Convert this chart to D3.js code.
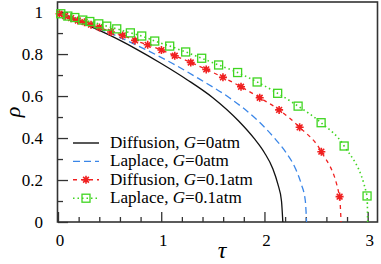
<!DOCTYPE html>
<html>
<head>
<meta charset="utf-8">
<script src="https://cdn.jsdelivr.net/npm/d3@7"></script>
<style>
  body { margin: 0; background: #fff; }
</style>
</head>
<body>
<div id="chart"></div>
<script>
var width = 381, height = 264;
var margin = { top: 2, right: 3, bottom: 42, left: 58 };
var serif = 'serif';

// series: [tau, rho]
var diffusionG0 = [[0, 1], [0.25, 0.945], [0.5, 0.89], [0.75, 0.826], [1.0, 0.755], [1.25, 0.678],
    [1.5, 0.592], [1.75, 0.481], [1.9, 0.398], [2.0, 0.33], [2.08, 0.255], [2.13, 0.18], [2.165, 0.1], [2.178, 0]];
var laplaceG0 = [[0, 1], [0.28, 0.945], [0.55, 0.89], [0.83, 0.826], [1.11, 0.755], [1.38, 0.678],
    [1.66, 0.592], [1.94, 0.481], [2.1, 0.398], [2.21, 0.33], [2.3, 0.255], [2.357, 0.18], [2.396, 0.1], [2.408, 0]];
var diffusionG01 = [[0, 1], [0.015, 0.992], [0.069, 0.981], [0.127, 0.971], [0.192, 0.96], [0.257, 0.952],
    [0.32, 0.94], [0.402, 0.927], [0.514, 0.905], [0.627, 0.889], [0.746, 0.865], [0.869, 0.844],
    [1.002, 0.819], [1.131, 0.792], [1.286, 0.76], [1.436, 0.727], [1.598, 0.689], [1.773, 0.644],
    [1.954, 0.592], [2.142, 0.534], [2.341, 0.451], [2.551, 0.335], [2.728, 0.121], [2.742, 0]];
var laplaceG01 = [[0, 1], [0.027, 0.992], [0.095, 0.981], [0.163, 0.974], [0.24, 0.962], [0.308, 0.955],
    [0.395, 0.944], [0.472, 0.933], [0.569, 0.92], [0.701, 0.901], [0.811, 0.886], [0.937, 0.862],
    [1.082, 0.838], [1.237, 0.81], [1.392, 0.78], [1.556, 0.748], [1.74, 0.712], [1.929, 0.667],
    [2.128, 0.613], [2.326, 0.552], [2.549, 0.473], [2.772, 0.362], [2.994, 0.124], [3.0, 0]];

var xTicks = [0, 1, 2, 3];
var yTicks = [0, 0.2, 0.4, 0.6, 0.8, 1];
var legendLabels = [["Diffusion, ", "G", "=0atm"], ["Laplace, ", "G", "=0atm"],
    ["Diffusion, ", "G", "=0.1atm"], ["Laplace, ", "G", "=0.1atm"]];

var svg = d3.select("#chart").append("svg")
    .attr("width", width)
    .attr("height", height);

let x = d3.scaleLinear().domain([0, 3.1]).range([margin.left, width - margin.right]);
let y = d3.scaleLinear().domain([0, 1.048]).range([height - margin.bottom, margin.top]);

var series = [
    { data: diffusionG0, colour: "#111", dash: null, marker: null },
    { data: laplaceG0, colour: "#3a86e8", dash: "7,4", marker: null },
    { data: diffusionG01, colour: "#f02020", dash: "4,4", marker: "star" },
    { data: laplaceG01, colour: "#3fd520", dash: "1.5,3", marker: "square" }
];

// minor + major ticks, pointing inward
let xAxis = d3.axisBottom(x).tickValues(d3.range(0, 3.01, 0.2)).tickSizeInner(-5).tickSizeOuter(0).tickFormat('');
let yAxis = d3.axisLeft(y).tickValues(d3.range(0, 1.01, 0.1)).tickSizeInner(-5).tickSizeOuter(0).tickFormat('');

svg.append('g').attr('transform', `translate(0, ${y(0)})`).call(xAxis)
    .call(g => g.selectAll('.tick line').filter(d => Math.abs(d - Math.round(d)) < 1e-6).attr('y2', -10));
svg.append('g').attr('transform', `translate(${margin.left}, 0)`).call(yAxis)
    .call(g => g.selectAll('.tick line').filter(d => Math.abs(d * 5 - Math.round(d * 5)) < 1e-6).attr('x2', 10));
svg.selectAll('.domain').remove();
svg.selectAll('.tick line').attr('stroke', '#333').attr('stroke-width', 1.3);

// frame
svg.append('rect')
    .attr('x', x.range()[0] - 0.5).attr('y', y.range()[1])
    .attr('width', x.range()[1] - x.range()[0]).attr('height', y.range()[0] - y.range()[1])
    .attr('fill', 'none').attr('stroke', '#333').attr('stroke-width', 1.6);

svg.selectAll('text.xLabel').data(xTicks).enter().append('text')
    .attr('class', 'xLabel')
    .attr('x', d => x(d) + 2).attr('y', y(0) + 24)
    .style('font-family', serif)
    .style('text-anchor', 'middle').style('font-size', '17px')
    .text(d => d);

svg.selectAll('text.yLabel').data(yTicks).enter().append('text')
    .attr('class', 'yLabel')
    .attr('x', 43).attr('y', d => y(d) + 5.5)
    .style('font-family', serif)
    .style('text-anchor', 'end').style('font-size', '17px')
    .text(d => d);

svg.append('text').attr('x', 222).attr('y', 258)
    .style('font-family', serif)
    .style('font-size', '24px').style('font-style', 'italic').style('text-anchor', 'middle')
    .text('τ');
svg.append('text').attr('transform', 'translate(20, 112) rotate(-90)')
    .style('font-family', serif)
    .style('font-size', '22px').style('font-style', 'italic').style('text-anchor', 'middle')
    .text('ρ');

let line = d3.line().x(d => x(d[0])).y(d => y(d[1])).curve(d3.curveMonotoneX);

function drawMarker(g, kind, colour, cx, cy) {
    if (kind == 'star') {
        let r = 4;
        g.append('path')
            .attr('d', `M${cx - r},${cy}H${cx + r}M${cx},${cy - r}V${cy + r}` +
                `M${cx - r * 0.72},${cy - r * 0.72}L${cx + r * 0.72},${cy + r * 0.72}` +
                `M${cx - r * 0.72},${cy + r * 0.72}L${cx + r * 0.72},${cy - r * 0.72}`)
            .attr('stroke', colour).attr('stroke-width', 1.6).attr('fill', 'none');
    } else if (kind == 'square') {
        g.append('rect')
            .attr('x', cx - 4).attr('y', cy - 4).attr('width', 8).attr('height', 8)
            .attr('stroke', colour).attr('stroke-width', 1.3).attr('fill', 'none');
    }
}

series.forEach(s => {
    svg.append('path')
        .datum(s.data)
        .attr('d', line)
        .attr('fill', 'none')
        .attr('stroke', s.colour)
        .attr('stroke-width', s.marker == 'square' ? 1.6 : 1.3)
        .attr('stroke-dasharray', s.dash);
    if (s.marker) {
        let g = svg.append('g');
        s.data.slice(1, -1).forEach(d => drawMarker(g, s.marker, s.colour, x(d[0]), y(d[1])));
    }
});

// legend, font size fitted so "Diffusion, G=0.1atm" spans about 143px
let legendTexts = [];
series.forEach((s, i) => {
    let ly = 143 + i * 18.4;
    svg.append('line')
        .attr('x1', 73).attr('x2', 99).attr('y1', ly).attr('y2', ly)
        .attr('stroke', s.colour).attr('stroke-width', 1.4)
        .attr('stroke-dasharray', s.dash);
    if (s.marker) drawMarker(svg.append('g'), s.marker, s.colour, 86, ly);
    let t = svg.append('text').attr('x', 110).attr('y', ly + 5)
        .style('font-family', serif).style('font-size', '16px');
    t.append('tspan').text(legendLabels[i][0]);
    t.append('tspan').style('font-style', 'italic').text(legendLabels[i][1]);
    t.append('tspan').text(legendLabels[i][2]);
    legendTexts.push(t);
});
let fs = 16 * 143 / legendTexts[2].node().getComputedTextLength();
legendTexts.forEach(t => t.style('font-size', Math.min(18, Math.max(13, fs)) + 'px'));
</script>
</body>
</html>
